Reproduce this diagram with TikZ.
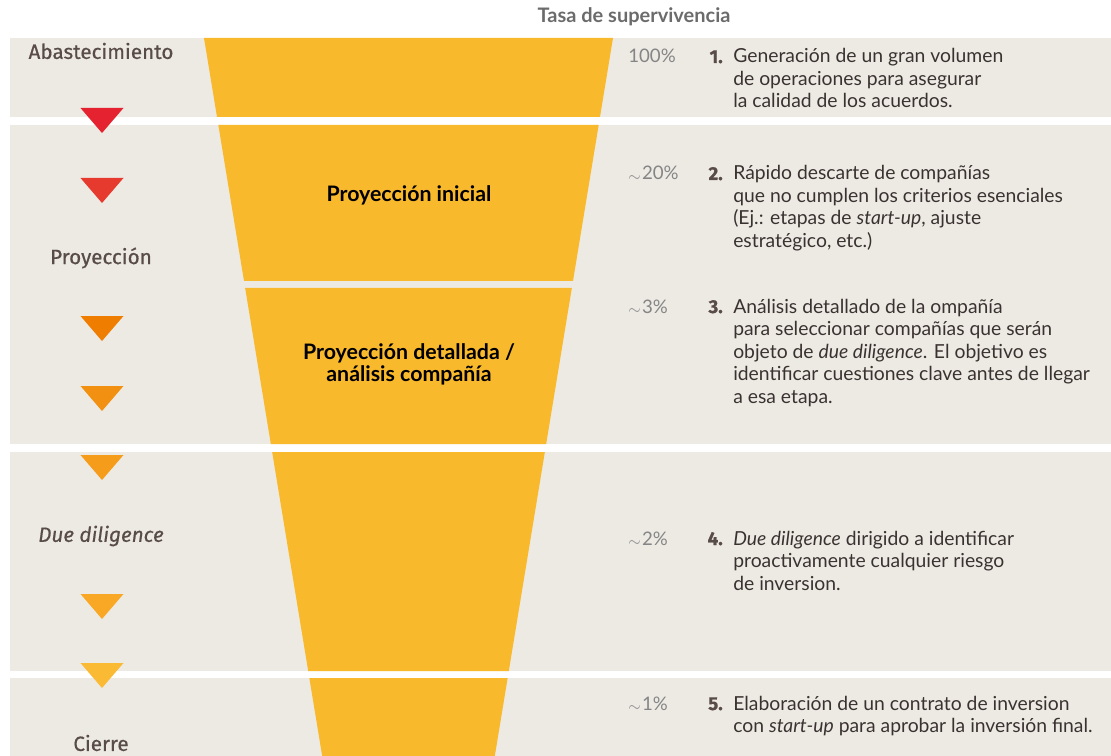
\documentclass[tikz,border=0pt]{standalone}
\usepackage{fontspec}
\setmainfont{Lato}
\newfontfamily\stagefont[FakeBold=0.6]{Fira Sans}
\newfontfamily\numfont[FakeBold=0.8]{Fira Sans}
\usetikzlibrary{positioning}
\definecolor{bandgray}{HTML}{EDEAE4}
\definecolor{funnelyellow}{HTML}{F9B92D}
\definecolor{stagebrown}{HTML}{594C48}
\definecolor{textdark}{HTML}{3A3230}
\definecolor{pctgray}{HTML}{858585}
\definecolor{headgray}{HTML}{6B6B6B}
\definecolor{triA}{HTML}{E52330}
\definecolor{triB}{HTML}{E63A2F}
\definecolor{triC}{HTML}{EE7D00}
\definecolor{triD}{HTML}{F29111}
\definecolor{triE}{HTML}{F59C1A}
\definecolor{triF}{HTML}{F8A824}
\definecolor{triG}{HTML}{FBBA33}
\newcommand\apx{\raisebox{-1pt}{\fontsize{13}{13}\selectfont$\sim$}\kern1pt}

\begin{document}
\begin{tikzpicture}[
    x=0.75pt, y=-0.75pt,
    band/.style={fill=bandgray},
    funnel/.style={fill=funnelyellow},
    stage/.style={font=\stagefont\fontsize{15.5}{18}\selectfont, text=stagebrown, inner sep=0pt},
    pct/.style={font=\fontsize{14}{16}\selectfont, text=pctgray, anchor=base west, inner sep=0pt},
    num/.style={font=\numfont\bfseries\fontsize{14}{17}\selectfont, text=stagebrown, anchor=base east, inner sep=0pt},
    desc/.style={font=\fontsize{14.5}{16.875}\selectfont, text=textdark, anchor=base west, align=left, inner sep=0pt},
    phase/.style={font=\bfseries\fontsize{16}{16.5}\selectfont, align=center, inner sep=0pt},
  ]
  \useasboundingbox (0,0) rectangle (1111,756);

  % gray bands
  \foreach \ya/\yb in {38/117, 125/444, 452/671, 678/756}
    \fill[band] (10,\ya) rectangle (1111,\yb);

  % funnel segments
  \foreach \ya/\yb in {38/117, 125/281, 288/444, 452/671, 678/756} {
    \pgfmathsetmacro\la{204+0.1646*(\ya-38)}
    \pgfmathsetmacro\ra{613-0.1646*(\ya-38)}
    \pgfmathsetmacro\lb{204+0.1646*(\yb-38)}
    \pgfmathsetmacro\rb{613-0.1646*(\yb-38)}
    \fill[funnel] (\la,\ya) -- (\ra,\ya) -- (\rb,\yb) -- (\lb,\yb) -- cycle;
  }

  % arrows down the stages
  \foreach \yt/\col in {108/triA, 178/triB, 316/triC, 386/triD, 455/triE, 594/triF, 663/triG}
    \fill[\col] (80.5,\yt) -- (123.5,\yt) -- (102,\yt+25) -- cycle;

  \node[font=\bfseries\fontsize{15}{17}\selectfont, text=headgray] (hdr) at (634,17) {Tasa de supervivencia};

  % stages
  \node[stage] (sAbast) at (101,51) {Abastecimiento};
  \node[stage] (sProy) at (101,258) {Proyección};
  \node[stage, font=\stagefont\itshape\fontsize{15.5}{18}\selectfont] (sDue) at (101,536) {Due diligence};
  \node[stage] (sCierre) at (101,743) {Cierre};

  \node[phase] (fIni) at (409,195) {Proyección inicial};
  \node[phase] (fDet) at (409,364) {Proyección detallada /\\análisis compañía};

  % survival rates and notes (desc nodes sit on the baseline of their last line)
  \node[pct] (p1) at (628,63) {100\%};
  \node[num] (n1) at (723,63) {1.};
  \node[desc] (d1) at (733,108) {Generación de un gran volumen\\de operaciones para asegurar\\la calidad de los acuerdos.};

  \node[pct] (p2) at (628,180) {\apx20\%};
  \node[num] (n2) at (723,180) {2.};
  \node[desc] (d2) at (733,247.5) {Rápido descarte de compañías\\que no cumplen los criterios esenciales\\(Ej.: etapas de \textit{start-up}, ajuste\\estratégico, etc.)};

  \node[pct] (p3) at (628,313) {\apx3\%};
  \node[num] (n3) at (723,313) {3.};
  \node[desc] (d3) at (733,403) {Análisis detallado de la ompañía\\para seleccionar compañías que serán\\objeto de \textit{due diligence}. El objetivo es\\identificar cuestiones clave antes de llegar\\a esa etapa.};

  \node[pct] (p4) at (628,545) {\apx2\%};
  \node[num] (n4) at (723,545) {4.};
  \node[desc] (d4) at (733,590) {\textit{Due diligence} dirigido a identificar\\proactivamente cualquier riesgo\\de inversion.};

  \node[pct] (p5) at (628,710) {\apx1\%};
  \node[num] (n5) at (723,710) {5.};
  \node[desc] (d5) at (733,732.5) {Elaboración de un contrato de inversion\\con \textit{start-up} para aprobar la inversión final.};
\end{tikzpicture}
\end{document}
